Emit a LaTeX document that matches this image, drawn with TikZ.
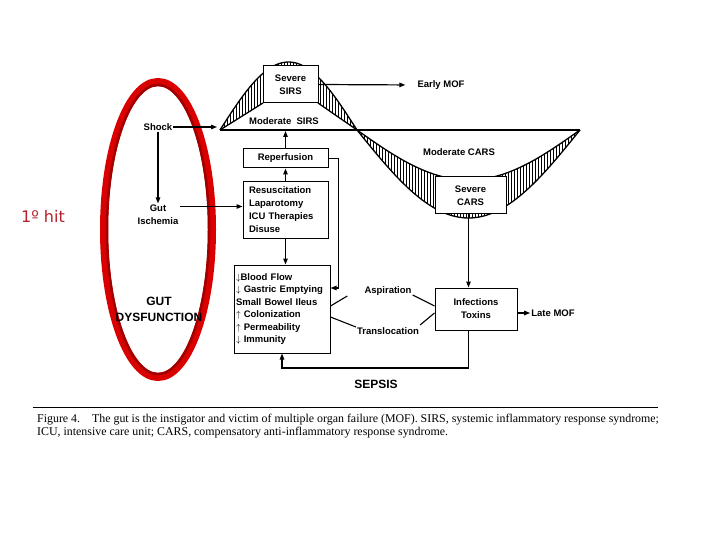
\documentclass[tikz,border=0pt]{standalone}
\usepackage{fontspec}
\setmainfont{Liberation Sans}
\newfontfamily\capfont{Liberation Serif}
\newfontfamily\hitfont{DejaVu Sans}
\usetikzlibrary{arrows.meta}
\definecolor{ringred}{HTML}{DA0000}
\definecolor{ringdark}{HTML}{A00000}
\definecolor{hitred}{HTML}{B5202C}

\begin{document}
\begin{tikzpicture}[x=1pt,y=-1pt,
    lbl/.style={font=\fontsize{9.5}{13}\selectfont\bfseries,inner sep=1pt,align=center},
    boxnode/.style={lbl,draw,fill=white,line width=1pt,inner sep=0pt},
    bigtxt/.style={font=\fontsize{12}{16}\selectfont\bfseries,inner sep=1pt,align=center},
    arr/.style={-{Triangle[length=6pt,width=4.5pt]},line width=1.2pt},
    link/.style={line width=1.1pt},
    hatch/.style={line width=0.5pt},
    curve/.style={line width=1.3pt}]
        \useasboundingbox (0,0) rectangle (720,540);
        \fill[white] (0,0) rectangle (720,540);
        % hatched bands of the wave
        \begin{scope}
          \clip plot[domain=0:180,samples=60] ({220+\x*0.76111},{130-68*sin(\x)}) -- (318,103) -- (263,103) -- cycle;
          \foreach \x in {221,224,...,356} {
            \draw[hatch] (\x,55) -- (\x,135);
          }
        \end{scope}
        \begin{scope}
          \clip plot[domain=0:180,samples=80] ({357+\x*1.23889},{130+88*sin(\x)})
            -- plot[domain=180:0,samples=80] ({357+\x*1.23889},{130+50*sin(\x)}) -- cycle;
          \foreach \x in {358,361,...,579} {
            \draw[hatch] (\x,125) -- (\x,225);
          }
        \end{scope}
        \draw[curve] plot[domain=0:180,samples=60] ({220+\x*0.76111},{130-68*sin(\x)});
        \draw[curve] (220,130) -- (263,103);
        \draw[curve] (318,103) -- (357,130);
        \draw[curve] plot[domain=0:180,samples=80] ({357+\x*1.23889},{130+88*sin(\x)});
        \draw[curve] plot[domain=0:180,samples=80] ({357+\x*1.23889},{130+50*sin(\x)});
        \draw[curve] (220,130) -- (580,130);
        % red ring
        \draw[ringred,line width=8pt] (158,229.5) ellipse [x radius=54,y radius=147.5];
        \draw[ringdark,line width=2.5pt] (158,229.5) ellipse [x radius=51,y radius=144.5];

        \node[lbl] (shock) at (158,127) {Shock};
        \node[lbl] (gutisch) at (158,214.5) {Gut\\Ischemia};
        \node[bigtxt] (gutdys) at (159,309) {GUT\\DYSFUNCTION};
        \node[font=\hitfont\fontsize{16}{18}\selectfont,text=hitred] (hit) at (43,216) {1º hit};
        \node[lbl] (modsirs) at (284,121) {Moderate\ \ SIRS};
        \node[boxnode,minimum width=55,minimum height=37] (sevsirs) at (290.5,84.5) {Severe\\SIRS};
        \node[lbl] (earlymof) at (441,85) {Early MOF};
        \node[lbl] (modcars) at (459,152) {Moderate CARS};
        \node[boxnode,minimum width=71,minimum height=37] (sevcars) at (470.5,195.5) {Severe\\CARS};
        \node[boxnode,minimum width=85,minimum height=19] (reperf) at (285.5,158.5) {Reperfusion};
        \node[boxnode,minimum width=85,minimum height=56,text width=73pt,align=left] (resus) at (285.5,210)
          {Resuscitation\\Laparotomy\\ICU Therapies\\Disuse};
        \node[boxnode,minimum width=96,minimum height=88,text width=92pt,align=left,font=\fontsize{9.5}{12.4}\selectfont\bfseries] (gutfx) at (282,309)
          {$\downarrow$Blood Flow\\$\downarrow$ Gastric Emptying\\Small Bowel Ileus\\$\uparrow$ Colonization\\$\uparrow$ Permeability\\$\downarrow$ Immunity};
        \node[boxnode,minimum width=82,minimum height=42] (infect) at (476,309) {Infections\\Toxins};
        \node[lbl] (aspir) at (388,291) {Aspiration};
        \node[lbl] (transl) at (388,331) {Translocation};
        \node[lbl] (latemof) at (553,313) {Late MOF};
        \node[bigtxt] (sepsis) at (376,384) {SEPSIS};

        \coordinate (shockend) at (217,127);
        \coordinate (sirsbase) at (285.5,131);
        \coordinate (sepsisrow) at (0,368);
        \coordinate (gutout) at ([yshift=8pt]gutisch.east);
        \coordinate (gastric) at ([yshift=21pt]gutfx.east);

        \draw[arr] (shock) -- (shockend);
        \draw[arr] (shock) -- (gutisch);
        \draw[arr] (gutout) -- (gutout -| resus.west);
        \draw[arr] (reperf) -- (sirsbase);
        \draw[arr] (resus) -- (reperf);
        \draw[arr] (resus.south) -- (resus.south |- gutfx.north);
        \draw[arr] (reperf.east) -- ++(10,0) |- (gastric);
        \draw[arr,shorten >=11pt] (sevsirs.east) -- (earlymof.west);
        \draw[link] ([yshift=3pt]gutfx.east) -- ([xshift=-16pt,yshift=-5pt]aspir.west);
        \draw[link] ([yshift=-8pt]gutfx.east) -- ([yshift=4pt]transl.west);
        \draw[link] ([yshift=-4pt]aspir.east) -- ([yshift=3pt]infect.west);
        \draw[link] ([yshift=6pt]transl.east) -- ([yshift=-4pt]infect.west);
        \draw[arr] ([xshift=-2pt]sevcars.south) -- ([xshift=-2pt]sevcars.south |- infect.north);
        \draw[arr] (infect.east |- latemof.west) -- (latemof.west);
        \draw[arr] ([xshift=-2pt]sevcars.south |- infect.south) -- ([xshift=-2pt]sevcars.south |- sepsisrow) -| (gutfx.south);

        % caption
        \draw[line width=1pt] (33,407) -- (658,407);
        \node[anchor=north west,inner sep=0pt,align=left,font=\capfont\fontsize{11.9}{13}\selectfont] (caption) at (37,414)
          {Figure 4.\quad The gut is the instigator and victim of multiple organ failure (MOF). SIRS, systemic inflammatory response syndrome;\\
           ICU, intensive care unit; CARS, compensatory anti-inflammatory response syndrome.};
      \end{tikzpicture}
\end{document}
